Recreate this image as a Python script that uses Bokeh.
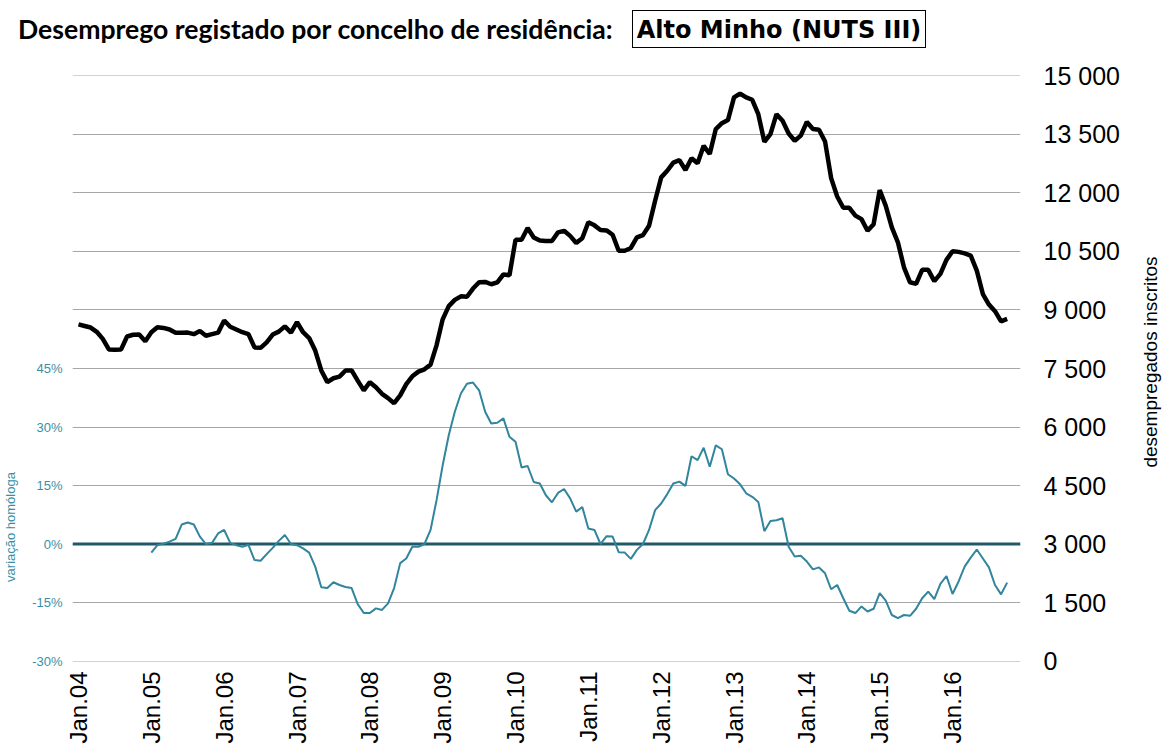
import math
from bokeh.plotting import figure
from bokeh.layouts import column, row
from bokeh.models import (LinearAxis, Range1d, FixedTicker, PrintfTickFormatter,
                          CustomJSTickFormatter, Span, Div)
from bokeh.embed import file_html
from bokeh.resources import INLINE

# ---------------- data ----------------
title_text = "Desemprego registado por concelho de residência:"
region_text = "Alto Minho (NUTS III)"
left_axis_title = "variação homóloga"
right_axis_title = "desempregados inscritos"

tick_labels = ["Jan.04", "Jan.05", "Jan.06", "Jan.07", "Jan.08", "Jan.09", "Jan.10",
               "Jan.11", "Jan.12", "Jan.13", "Jan.14", "Jan.15", "Jan.16"]

# monthly registered unemployed, Jan 2004 .. Oct 2016
desempregados = [
    8630, 8590, 8550, 8440, 8260, 7990, 7980, 7985, 8320, 8365, 8370, 8200,
    8430, 8560, 8540, 8500, 8415, 8415, 8420, 8380, 8460, 8340, 8380, 8420,
    8730, 8570, 8500, 8430, 8380, 8040, 8030, 8170, 8370, 8445, 8580, 8420,
    8690, 8430, 8280, 7960, 7450, 7150, 7250, 7290, 7450, 7450, 7190, 6940,
    7150, 7020, 6850, 6740, 6610, 6810, 7100, 7300, 7420, 7480, 7600, 8100,
    8760, 9100, 9260, 9350, 9340, 9550, 9710, 9720, 9660, 9710, 9910, 9890,
    10800, 10800, 11100, 10860, 10780, 10770, 10770, 10990, 11030, 10900, 10720, 10840,
    11250, 11170, 11050, 11040, 10930, 10520, 10520, 10590, 10860, 10920, 11160, 11800,
    12400, 12570, 12780, 12840, 12590, 12890, 12760, 13210, 13000, 13640, 13790, 13870,
    14450, 14550, 14450, 14390, 14020, 13310, 13510, 14020, 13850, 13525, 13340, 13470,
    13820, 13640, 13620, 13320, 12380, 11910, 11620, 11620, 11420, 11330, 11030, 11200,
    12075, 11670, 11120, 10735, 10095, 9710, 9670, 10030, 10030, 9740, 9925, 10285,
    10505, 10490, 10450, 10395, 10010, 9410, 9140, 8970, 8710, 8770,
]

# year-on-year change (%), Jan 2005 .. Oct 2016
variacao_homologa = [
    -2.2, -0.3, 0.1, 0.6, 1.3, 5.0, 5.5, 5.0, 1.9, 0.0, 0.3, 2.7,
    3.6, 0.3, -0.3, -0.7, -0.2, -4.1, -4.3, -2.6, -1.0, 0.8, 2.3, 0.0,
    -0.3, -1.1, -2.2, -5.8, -11.1, -11.3, -9.8, -10.5, -11.0, -11.3, -15.4, -17.7,
    -17.7, -16.5, -16.9, -15.2, -11.3, -4.9, -3.7, -0.7, -0.7, 0.0, 3.6, 11.3,
    20.2, 27.9, 33.9, 38.6, 41.1, 41.4, 39.4, 33.9, 30.9, 31.1, 32.2, 27.5,
    26.2, 19.6, 20.0, 15.9, 15.5, 12.5, 10.7, 13.1, 14.1, 11.7, 8.3, 9.5,
    4.0, 3.6, 0.0, 2.0, 1.9, -2.1, -2.2, -3.8, -1.5, 0.0, 3.6, 8.7,
    10.4, 12.8, 15.5, 16.0, 14.9, 22.5, 21.5, 24.7, 19.8, 25.3, 24.3, 17.9,
    16.8, 15.3, 13.0, 12.1, 10.8, 3.3, 5.9, 6.1, 6.6, -0.7, -3.2, -3.0,
    -4.5, -6.5, -6.0, -7.5, -11.6, -10.5, -13.9, -17.1, -17.7, -16.0, -17.3, -16.6,
    -12.6, -14.5, -18.2, -19.0, -18.2, -18.4, -16.6, -13.9, -12.2, -14.1, -10.2, -8.2,
    -12.8, -9.6, -5.8, -3.5, -1.4, -3.7, -6.0, -10.5, -12.9, -9.9,
]

value_ticks = list(range(0, 15001, 1500))
pct_ticks = [-30, -15, 0, 15, 30, 45]

months = list(range(len(desempregados)))
var_offset = len(desempregados) - len(variacao_homologa)
var_months = [m + var_offset for m in range(len(variacao_homologa))]
year_ticks = [12 * i for i in range(len(tick_labels))]

# ---------------- styling ----------------
TEAL = "#31859c"
DARK_TEAL = "#215968"
LABEL_TEAL = "#3b8fa5"
GRID = "#a6a6a6"
FONT = "Liberation Sans"

W = 1161
HEAD_H = 60
MAIN_H = 686
LEFT_W = 22
RIGHT_W = 30
PLOT_W = W - LEFT_W - RIGHT_W
FRAME_LEFT, FRAME_RIGHT, FRAME_TOP, FRAME_BOTTOM = 72, 1020, 75, 661

# ---------------- header (title + boxed region name) ----------------
header_html = f"""
<div style="position:relative;width:{W}px;height:{HEAD_H}px;margin:0;padding:0;">
  <div style="position:absolute;left:18px;top:13px;white-space:nowrap;
              font-family:Lato;font-weight:bold;font-size:26.6px;line-height:normal;color:#000;">
    {title_text}</div>
  <div style="position:absolute;left:632px;top:10px;width:294px;height:38px;
              box-sizing:border-box;border:1.5px solid #000;background:#fff;"></div>
  <div style="position:absolute;left:632px;top:16px;width:294px;text-align:center;white-space:nowrap;
              font-family:'DejaVu Sans';font-weight:bold;font-size:24px;line-height:normal;color:#000;">
    {region_text}</div>
</div>
"""
head = Div(text=header_html, width=W, height=HEAD_H, margin=0)


def vertical_title(text, width, cx, cy, size, color):
    html = f"""
<div style="position:relative;width:{width}px;height:{MAIN_H}px;margin:0;padding:0;">
  <div style="position:absolute;left:{cx}px;top:{cy}px;white-space:nowrap;
              transform:translate(-50%,-50%) rotate(-90deg);
              font-family:'{FONT}';font-size:{size}px;line-height:normal;color:{color};">
    {text}</div>
</div>
"""
    return Div(text=html, width=width, height=MAIN_H, margin=0)


left_div = vertical_title(left_axis_title, LEFT_W, 10, 527 - HEAD_H, 13, LABEL_TEAL)
right_div = vertical_title(right_axis_title, RIGHT_W, 1151 - (LEFT_W + PLOT_W), 362 - HEAD_H, 19, "#000")

# ---------------- main chart ----------------
p = figure(width=PLOT_W, height=MAIN_H, output_backend="svg", toolbar_location=None,
           x_range=Range1d(-0.99, 155.2), y_range=Range1d(-12, 15012),
           y_axis_location="right",
           min_border_left=FRAME_LEFT - LEFT_W,
           min_border_right=LEFT_W + PLOT_W - FRAME_RIGHT,
           min_border_top=FRAME_TOP - HEAD_H,
           min_border_bottom=MAIN_H + HEAD_H - FRAME_BOTTOM)
p.margin = 0
p.outline_line_color = None
p.background_fill_color = "white"
p.border_fill_color = "white"

p.xgrid.visible = False
p.ygrid.ticker = FixedTicker(ticks=value_ticks)
p.ygrid.grid_line_color = GRID
p.ygrid.grid_line_width = 1

# right axis (counts)
ry = p.yaxis[0]
ry.ticker = FixedTicker(ticks=value_ticks)
ry.formatter = CustomJSTickFormatter(code="""
    return Math.round(tick).toString().replace(/\\B(?=(\\d{3})+(?!\\d))/g, " ");
""")
ry.axis_line_color = None
ry.major_tick_line_color = None
ry.minor_tick_line_color = None
ry.major_tick_out = 0
ry.major_label_standoff = 23
ry.major_label_text_font = FONT
ry.major_label_text_font_size = "25px"
ry.major_label_text_color = "black"

# left axis (percent)
p.extra_y_ranges = {"pct": Range1d(-30.12, 120.12)}
la = LinearAxis(y_range_name="pct", ticker=FixedTicker(ticks=pct_ticks),
                formatter=PrintfTickFormatter(format="%d%%"))
la.axis_line_color = None
la.major_tick_line_color = None
la.minor_tick_line_color = None
la.major_tick_out = 0
la.major_label_standoff = 10
la.major_label_text_font = FONT
la.major_label_text_font_size = "13px"
la.major_label_text_color = LABEL_TEAL
p.add_layout(la, "left")

# bottom axis
bx = p.xaxis[0]
bx.ticker = FixedTicker(ticks=year_ticks)
bx.formatter = CustomJSTickFormatter(args=dict(labels=tick_labels), code="""
    const i = Math.round(tick / 12);
    return (i >= 0 && i < labels.length) ? labels[i] : "";
""")
bx.major_label_orientation = math.pi / 2
bx.axis_line_color = None
bx.major_tick_line_color = None
bx.minor_tick_line_color = None
bx.major_tick_out = 0
bx.major_label_standoff = 10
bx.major_label_text_font = FONT
bx.major_label_text_font_size = "24px"
bx.major_label_text_color = "black"

# zero line for the percentage axis
p.add_layout(Span(location=0, dimension="width", y_range_name="pct",
                  line_color=DARK_TEAL, line_width=3, level="underlay"))

p.line(var_months, variacao_homologa, y_range_name="pct", line_color=TEAL, line_width=2)
p.line(months, desempregados, line_color="black", line_width=4.5)

layout = column(head, row(left_div, p, right_div, spacing=0), spacing=0)
open("out.html", "w").write(file_html(layout, INLINE))
